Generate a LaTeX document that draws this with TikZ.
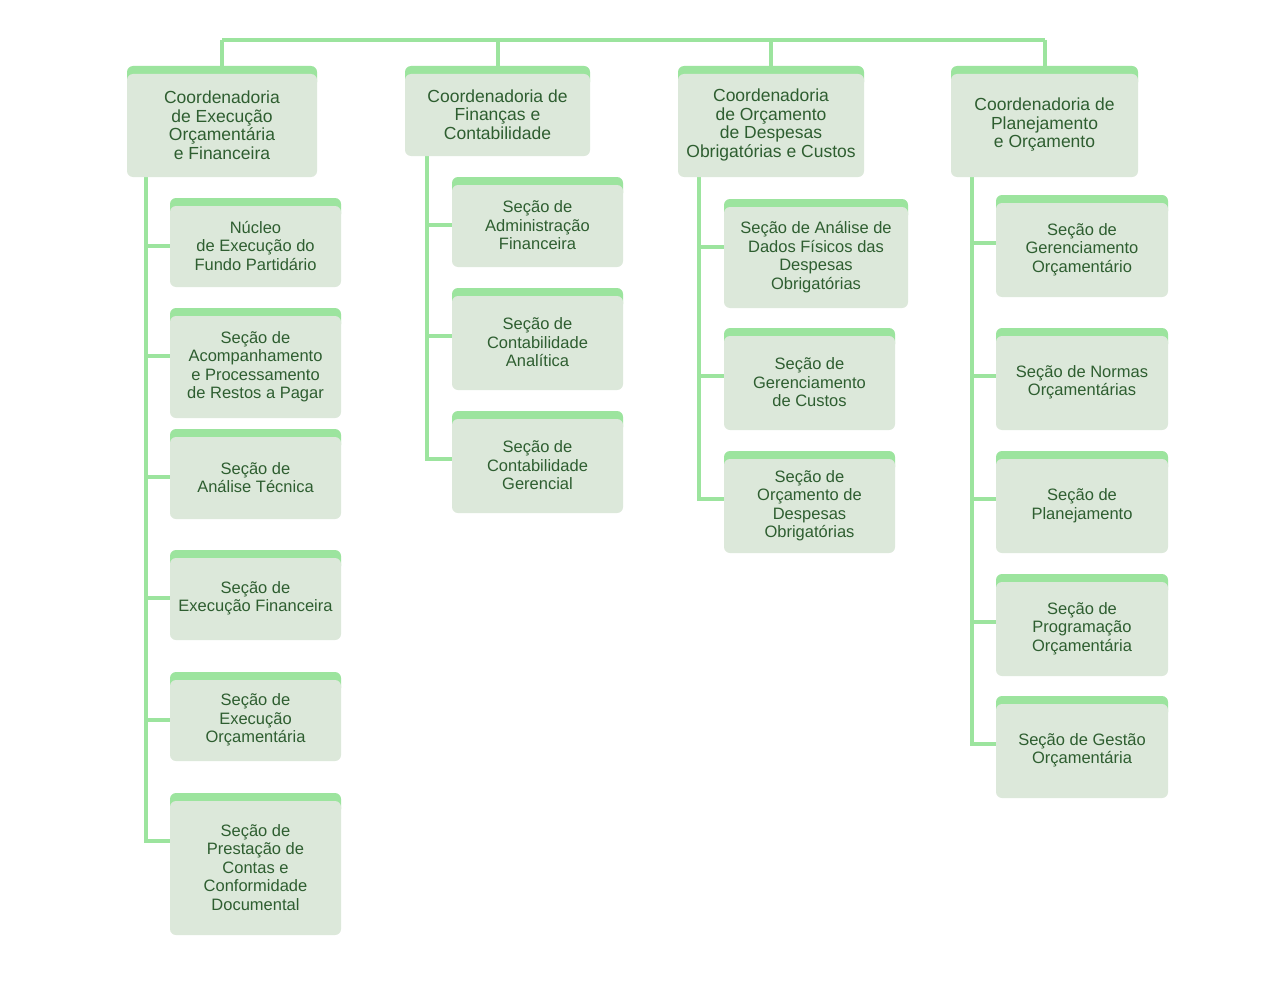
\documentclass[tikz,border=0pt]{standalone}
\usepackage{fontspec}
\setmainfont{Liberation Sans}
\usetikzlibrary{fit}
\definecolor{band}{RGB}{156,228,158}
\definecolor{light}{RGB}{220,232,218}
\definecolor{txt}{RGB}{46,94,48}
\pgfdeclarelayer{bg}
\pgfsetlayers{bg,main}
\tikzset{
  boxsty/.style={fill=light, rounded corners=6pt, inner sep=0pt},
  txtsty/.style={align=center, text=txt, inner sep=0pt},
  headtxt/.style={font=\fontsize{17.5}{18.5}\selectfont},
  childtxt/.style={font=\fontsize{16.5}{18.5}\selectfont},
  conn/.style={draw=band, line width=4pt}
}
% name, x1, y1, x2, y2, style, text
\newcommand\obox[7]{%
  \fill[band, rounded corners=6pt] (#2,#3) rectangle (#4,#3+22);
  \coordinate (#1-a) at (#2,#3+8);
  \coordinate (#1-b) at (#4,#5);
  \node[boxsty, fit=(#1-a)(#1-b)] (#1) {};
  \node[txtsty, #6] (#1-t) at ([yshift=0.5pt]#1.center) {#7};
  \coordinate (#1-in) at ([yshift=-40pt]#1.north west);
}
\begin{document}
\begin{tikzpicture}[x=1pt,y=-1pt]
\useasboundingbox (0,0) rectangle (1265,1006);
% heads
\obox{h1}{127}{66}{317}{177}{headtxt}{Coordenadoria\\de Execução\\Orçamentária\\e Financeira}
\obox{h2}{405}{66}{590}{156}{headtxt}{Coordenadoria de\\Finanças e\\Contabilidade}
\obox{h3}{678}{66}{864}{177}{headtxt}{Coordenadoria\\de Orçamento\\de Despesas\\Obrigatórias e Custos}
\obox{h4}{951}{66}{1138}{177}{headtxt}{Coordenadoria de\\Planejamento\\e Orçamento}
% column 1
\obox{a1}{170}{198}{341}{287}{childtxt}{Núcleo\\de Execução do\\Fundo Partidário}
\obox{a2}{170}{308}{341}{418}{childtxt}{Seção de\\Acompanhamento\\e Processamento\\de Restos a Pagar}
\obox{a3}{170}{429}{341}{519}{childtxt}{Seção de\\Análise Técnica}
\obox{a4}{170}{550}{341}{640}{childtxt}{Seção de\\Execução Financeira}
\obox{a5}{170}{672}{341}{761}{childtxt}{Seção de\\Execução\\Orçamentária}
\obox{a6}{170}{793}{341}{935}{childtxt}{Seção de\\Prestação de\\Contas e\\Conformidade\\Documental}
% column 2
\obox{b1}{452}{177}{623}{267}{childtxt}{Seção de\\Administração\\Financeira}
\obox{b2}{452}{288}{623}{390}{childtxt}{Seção de\\Contabilidade\\Analítica}
\obox{b3}{452}{411}{623}{513}{childtxt}{Seção de\\Contabilidade\\Gerencial}
% column 3
\obox{c1}{724}{199}{908}{308}{childtxt}{Seção de Análise de\\Dados Físicos das\\Despesas\\Obrigatórias}
\obox{c2}{724}{328}{895}{430}{childtxt}{Seção de\\Gerenciamento\\de Custos}
\obox{c3}{724}{451}{895}{553}{childtxt}{Seção de\\Orçamento de\\Despesas\\Obrigatórias}
% column 4
\obox{d1}{996}{195}{1168}{297}{childtxt}{Seção de\\Gerenciamento\\Orçamentário}
\obox{d2}{996}{328}{1168}{430}{childtxt}{Seção de Normas\\Orçamentárias}
\obox{d3}{996}{451}{1168}{553}{childtxt}{Seção de\\Planejamento}
\obox{d4}{996}{574}{1168}{676}{childtxt}{Seção de\\Programação\\Orçamentária}
\obox{d5}{996}{696}{1168}{798}{childtxt}{Seção de Gestão\\Orçamentária}
% spine x coordinates
\coordinate (bus) at (0,40);
\coordinate (s1) at (146,0);
\coordinate (s2) at (427,0);
\coordinate (s3) at (699,0);
\coordinate (s4) at (972,0);
\begin{pgfonlayer}{bg}
  \fill[white] (0,0) rectangle (1265,1006);
  % top bus
  \draw[conn] (h1.north |- bus) -- (h4.north |- bus);
  \foreach \h in {h1,h2,h3,h4}{
    \draw[conn] (\h.north |- bus) -- ([yshift=8pt]\h.north);
  }
  % spines
  \draw[conn] (s1 |- h1.south) |- (a6-in);
  \foreach \c in {a1,a2,a3,a4,a5}{ \draw[conn] (s1 |- \c-in) -- (\c-in); }
  \draw[conn] (s2 |- h2.south) |- (b3-in);
  \foreach \c in {b1,b2}{ \draw[conn] (s2 |- \c-in) -- (\c-in); }
  \draw[conn] (s3 |- h3.south) |- (c3-in);
  \foreach \c in {c1,c2}{ \draw[conn] (s3 |- \c-in) -- (\c-in); }
  \draw[conn] (s4 |- h4.south) |- (d5-in);
  \foreach \c in {d1,d2,d3,d4}{ \draw[conn] (s4 |- \c-in) -- (\c-in); }
\end{pgfonlayer}
\end{tikzpicture}
\end{document}
